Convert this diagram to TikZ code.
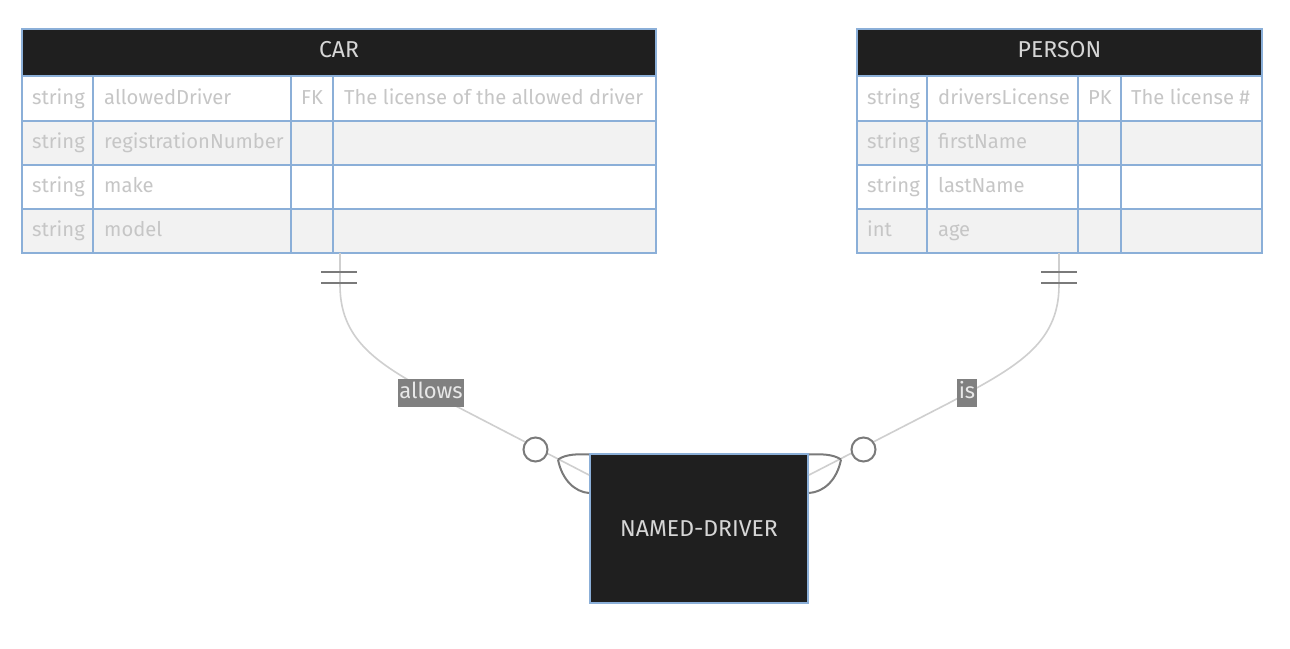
\documentclass[tikz,border=0pt]{standalone}
\usepackage{fontspec}
\setmainfont{Fira Sans}
\usetikzlibrary{calc}
\definecolor{hdr}{HTML}{1F1F1F}
\definecolor{bord}{HTML}{8BAFD8}
\definecolor{rowgray}{HTML}{F2F2F2}
\definecolor{attr}{HTML}{C6C6C6}
\definecolor{hdrtext}{HTML}{D6D6D6}
\definecolor{conn}{HTML}{CFCFCF}
\definecolor{markc}{HTML}{7A7A7A}
\definecolor{lblbg}{HTML}{808080}
\definecolor{lbltext}{HTML}{E8E8E8}
\newcommand{\attrfont}{\fontsize{20.2}{24}\selectfont}
\newcommand{\hdrfont}{\fontsize{23}{27}\selectfont}
\newcommand{\lblfont}{\fontsize{22}{26}\selectfont}
\begin{document}
\begin{tikzpicture}[x=1pt,y=-1pt,
  attrtext/.style={inner sep=0pt, text=attr, anchor=west, font=\attrfont, text height=14pt, text depth=4pt},
  hdrlabel/.style={inner sep=0pt, text=hdrtext, font=\hdrfont, text height=16pt, text depth=4pt},
  tablebox/.style={inner sep=0pt, draw=none},
  gridline/.style={draw=bord, line width=2pt},
  connline/.style={draw=conn, line width=1.6pt},
  markline/.style={draw=markc, line width=2pt},
  lbl/.style={fill=lblbg, text=lbltext, font=\lblfont, inner xsep=1.5pt, inner ysep=0pt, text height=17pt, text depth=7pt, minimum height=28pt},
  entitybox/.style={fill=hdr, draw=bord, line width=2pt, text=hdrtext, font=\hdrfont, minimum width=218pt, minimum height=149pt, inner sep=0pt}
]
\useasboundingbox (0,0) rectangle (1290,648);
\fill[white] (0,0) rectangle (1290,648);

% ---------- CAR table ----------
\fill[hdr] (22,29) rectangle (656,76);
\fill[white] (22,76) rectangle (656,121);
\fill[rowgray] (22,121) rectangle (656,165);
\fill[white] (22,165) rectangle (656,209);
\fill[rowgray] (22,209) rectangle (656,253);
\node[tablebox, minimum width=634pt, minimum height=224pt] (car) at (339,141) {};
\node[hdrlabel] (carT) at (339,51) {CAR};
\node[attrtext] (c11) at (32,99) {string};
\node[attrtext] (c12) at (104,99) {allowedDriver};
\node[attrtext] (c13) at (301,99) {FK};
\node[attrtext] (c14) at (344,99) {The license of the allowed driver};
\node[attrtext] (c21) at (32,143.5) {string};
\node[attrtext] (c22) at (104,143.5) {registrationNumber};
\node[attrtext] (c31) at (32,187.5) {string};
\node[attrtext] (c32) at (104,187.5) {make};
\node[attrtext] (c41) at (32,231.5) {string};
\node[attrtext] (c42) at (104,231.5) {model};
\draw[gridline] (22,29) rectangle (656,253);
\draw[gridline] (22,76) -- (656,76) (22,121) -- (656,121) (22,165) -- (656,165) (22,209) -- (656,209);
\draw[gridline] (93,76) -- (93,253) (291,76) -- (291,253) (333,76) -- (333,253);

% ---------- PERSON table ----------
\fill[hdr] (857,29) rectangle (1262,76);
\fill[white] (857,76) rectangle (1262,121);
\fill[rowgray] (857,121) rectangle (1262,165);
\fill[white] (857,165) rectangle (1262,209);
\fill[rowgray] (857,209) rectangle (1262,253);
\node[tablebox, minimum width=405pt, minimum height=224pt] (person) at (1059.5,141) {};
\node[hdrlabel] (personT) at (1059.5,51) {PERSON};
\node[attrtext] (p11) at (867,99) {string};
\node[attrtext] (p12) at (938,99) {driversLicense};
\node[attrtext] (p13) at (1088,99) {PK};
\node[attrtext] (p14) at (1131,99) {The license \#};
\node[attrtext] (p21) at (867,143.5) {string};
\node[attrtext] (p22) at (938,143.5) {firstName};
\node[attrtext] (p31) at (867,187.5) {string};
\node[attrtext] (p32) at (938,187.5) {lastName};
\node[attrtext] (p41) at (867,231.5) {int};
\node[attrtext] (p42) at (938,231.5) {age};
\draw[gridline] (857,29) rectangle (1262,253);
\draw[gridline] (857,76) -- (1262,76) (857,121) -- (1262,121) (857,165) -- (1262,165) (857,209) -- (1262,209);
\draw[gridline] (927,76) -- (927,253) (1078,76) -- (1078,253) (1121,76) -- (1121,253);

% ---------- NAMED-DRIVER ----------
\node[entitybox] (nd) at (699,528.5) {NAMED-DRIVER};

% ---------- connectors ----------
\coordinate (carS) at ($(car.south)+(1,0)$);
\coordinate (personS) at ($(person.south)+(-0.5,0)$);
\coordinate (ndL) at ($(nd.north west)+(0,22)$);
\coordinate (ndR) at ($(nd.north east)+(0,22)$);

\draw[connline] (carS) -- ++(0,32) .. controls +(0,60) and (385,368) .. (450,403) -- (ndL);
\draw[connline] (personS) -- ++(0,32) .. controls +(0,60) and (1014,368) .. (949,403) -- (ndR);

% labels
\node[lbl] (allowsL) at (431,393) {allows};
\node[lbl] (isL) at (967,393) {is};

% exactly-one marks
\draw[markline] ($(carS)+(-19,19)$) -- ++(36,0) ($(carS)+(-19,30)$) -- ++(36,0);
\draw[markline] ($(personS)+(-18,19)$) -- ++(36,0) ($(personS)+(-18,30)$) -- ++(36,0);

% zero-or-more marks (left)
\draw[markline, fill=white] (535.5,449.5) circle (12);
\draw[markline] (558,459.5) .. controls (566,454) and (578,454) .. ($(nd.north west)+(0,1.5)$);
\draw[markline] (558,459.5) .. controls (562,480) and (575,492) .. ($(nd.north west)+(0,40)$);
% zero-or-more marks (right)
\draw[markline, fill=white] (863.5,449.5) circle (12);
\draw[markline] (841,459.5) .. controls (833,454) and (821,454) .. ($(nd.north east)+(0,1.5)$);
\draw[markline] (841,459.5) .. controls (837,480) and (824,492) .. ($(nd.north east)+(0,40)$);
\end{tikzpicture}
\end{document}
